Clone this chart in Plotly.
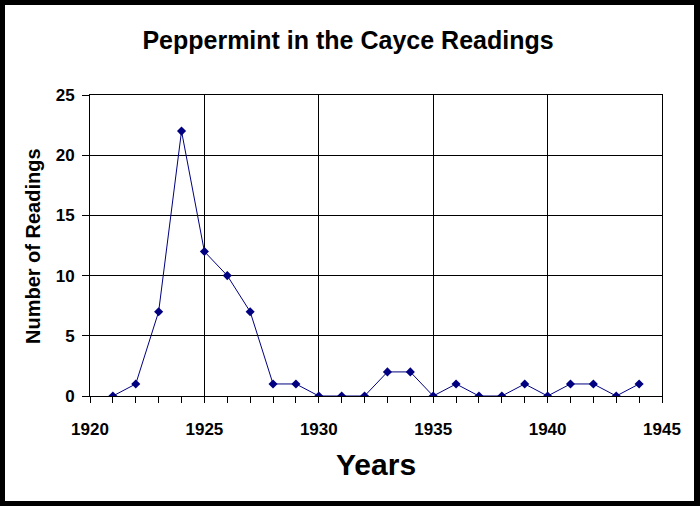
import plotly.graph_objects as go

# readings per year
years = list(range(1921, 1945))
readings = [0, 1, 7, 22, 12, 10, 7, 1, 1, 0, 0, 0, 2, 2, 0, 1, 0, 0, 1, 0, 1, 1, 0, 1]

x_ticks = [1920, 1925, 1930, 1935, 1940, 1945]
y_ticks = [0, 5, 10, 15, 20, 25]

W, H = 700, 506
L, R, T, B = 90, 38, 95, 110   # plot area 90..662 x 95..396
PW, PH = W - L - R, H - T - B

def px2paper(px, py):
    return (px - L) / PW, (H - B - py) / PH

FONT = "Liberation Sans, Arial, sans-serif"

fig = go.Figure(go.Scatter(
    x=years, y=readings, mode="lines+markers",
    line=dict(color="#000080", width=1),
    marker=dict(symbol="diamond", size=7, color="#000080"),
    hoverinfo="x+y",
))

# white card with a black frame round it
x0, y0 = px2paper(5, 501)
x1, y1 = px2paper(694, 5)
fig.add_shape(type="rect", xref="paper", yref="paper", x0=x0, y0=y0, x1=x1, y1=y1,
              fillcolor="white", line=dict(width=0), layer="below")

ax, ay = px2paper(376, 464)
fig.add_annotation(text="Years", xref="paper", yref="paper", x=0.5, y=ay,
                   showarrow=False, yanchor="middle",
                   font=dict(family=FONT, size=30, color="black", weight="bold"))
ax, ay = px2paper(33, 246)
fig.add_annotation(text="Number of Readings", xref="paper", yref="paper", x=ax, y=ay,
                   showarrow=False, textangle=-90, xanchor="center", yanchor="middle",
                   font=dict(family=FONT, size=20, color="black", weight="bold"))

tick_font = dict(family=FONT, size=17, color="black", weight="bold")

fig.update_xaxes(range=[1920, 1945], tickvals=x_ticks, ticks="outside", ticklen=6,
                 tickcolor="black", tickfont=tick_font, ticklabelstandoff=12,
                 showline=True, mirror=True, linecolor="black", linewidth=1,
                 showgrid=True, gridcolor="black", gridwidth=1, zeroline=False,
                 minor=dict(dtick=1, ticks="outside", ticklen=6, tickcolor="black", showgrid=False))
fig.update_yaxes(range=[0, 25], tickvals=y_ticks, ticks="outside", ticklen=7,
                 tickcolor="black", tickfont=tick_font, ticklabelstandoff=4,
                 showline=True, mirror=True, linecolor="black", linewidth=1,
                 showgrid=True, gridcolor="black", gridwidth=1, zeroline=False)

fig.update_layout(
    width=W, height=H,
    margin=dict(l=L, r=R, t=T, b=B, autoexpand=False),
    paper_bgcolor="black", plot_bgcolor="white",
    showlegend=False,
    title=dict(text="Peppermint in the Cayce Readings", x=348 / W, y=1 - 40 / H,
               xanchor="center", yanchor="middle",
               font=dict(family=FONT, size=25, color="black", weight="bold")),
)

# page body has a default 8px margin; drop it so the chart sits at 0,0
fig.write_html("out.html", config={"displayModeBar": False},
               post_script="document.body.style.margin='0';")
